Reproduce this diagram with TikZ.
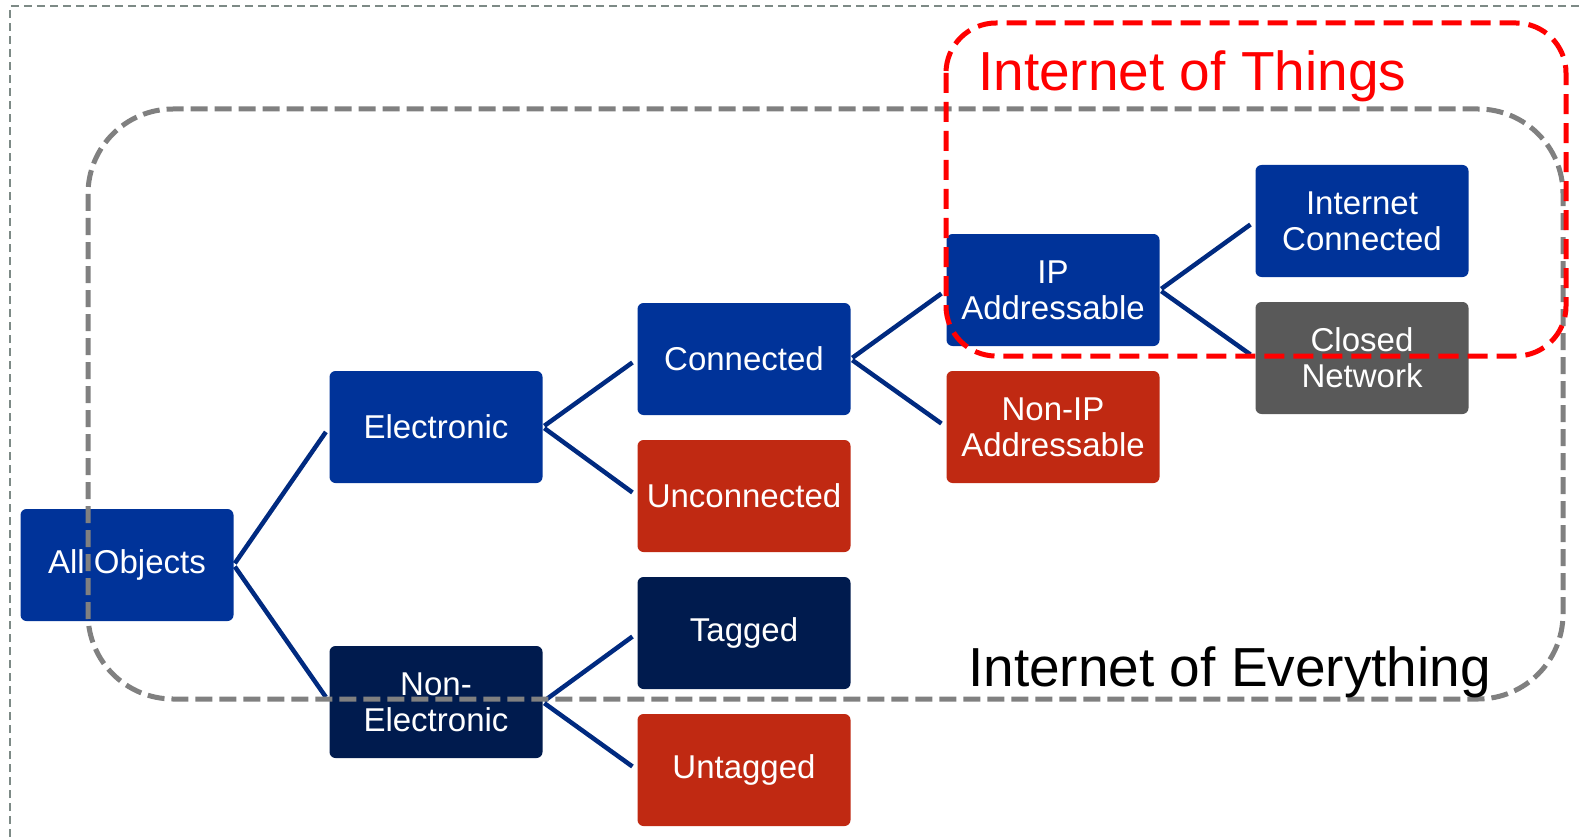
\documentclass[tikz,border=0pt]{standalone}
\usepackage{fontspec}
\setmainfont{Liberation Sans}
\begin{document}
\begin{tikzpicture}[x=1pt,y=-1pt,
  box/.style={rounded corners=6pt,minimum width=213pt,minimum height=112pt,inner sep=0pt,
    text=white,align=center,font=\fontsize{33}{36}\selectfont},
  blu/.style={box,fill=cBlue},
  nav/.style={box,fill=cNavy},
  rd/.style={box,fill=cRed},
  gry/.style={box,fill=cGrey},
  link/.style={draw=cLine,line width=4.5pt,shorten <=2pt,shorten >=6pt}
]
\definecolor{cBlue}{RGB}{0,51,153}
\definecolor{cNavy}{RGB}{0,27,78}
\definecolor{cRed}{RGB}{192,41,18}
\definecolor{cGrey}{RGB}{89,89,89}
\definecolor{cLine}{RGB}{0,42,128}
\definecolor{cFrame}{RGB}{125,138,134}
\useasboundingbox[fill=white] (0,0) rectangle (1579,837);
\draw[cFrame,line width=1.5pt,dash pattern=on 8pt off 5pt] (10,837) -- (10,6) -- (1579,6);

\node[blu] (all) at (127,565) {All Objects};
\node[blu] (elec) at (436,427) {Electronic};
\node[nav] (nonelec) at (436,702) {Non-\\Electronic};
\node[blu] (conn) at (744,359) {Connected};
\node[rd] (unconn) at (744,496) {Unconnected};
\node[nav] (tag) at (744,633) {Tagged};
\node[rd] (untag) at (744,770) {Untagged};
\node[blu] (ip) at (1053,290) {IP\\Addressable};
\node[rd] (nonip) at (1053,427) {Non-IP\\Addressable};
\node[blu] (inet) at (1362,221) {Internet\\Connected};
\node[gry] (closed) at (1362,358) {Closed\\Network};

\draw[link] (all.east) -- (elec.west);
\draw[link] (all.east) -- (nonelec.west);
\draw[link] (elec.east) -- (conn.west);
\draw[link] (elec.east) -- (unconn.west);
\draw[link] (nonelec.east) -- (tag.west);
\draw[link] (nonelec.east) -- (untag.west);
\draw[link] (conn.east) -- (ip.west);
\draw[link] (conn.east) -- (nonip.west);
\draw[link] (ip.east) -- (inet.west);
\draw[link] (ip.east) -- (closed.west);

\draw[gray,line width=5pt,dash pattern=on 17pt off 7pt,rounded corners=85pt] (88,109) rectangle (1563,699);
\draw[red,line width=5pt,dash pattern=on 20pt off 9pt,rounded corners=50pt] (946,23) rectangle (1566,356);

\node[anchor=base west,text=red,font=\fontsize{55}{60}\selectfont,inner sep=0pt] (iot) at (978,91) {Internet of Things};
\node[anchor=base west,text=black,font=\fontsize{55}{60}\selectfont,inner sep=0pt] (ioe) at (968,686) {Internet of Everything};
\end{tikzpicture}
\end{document}
